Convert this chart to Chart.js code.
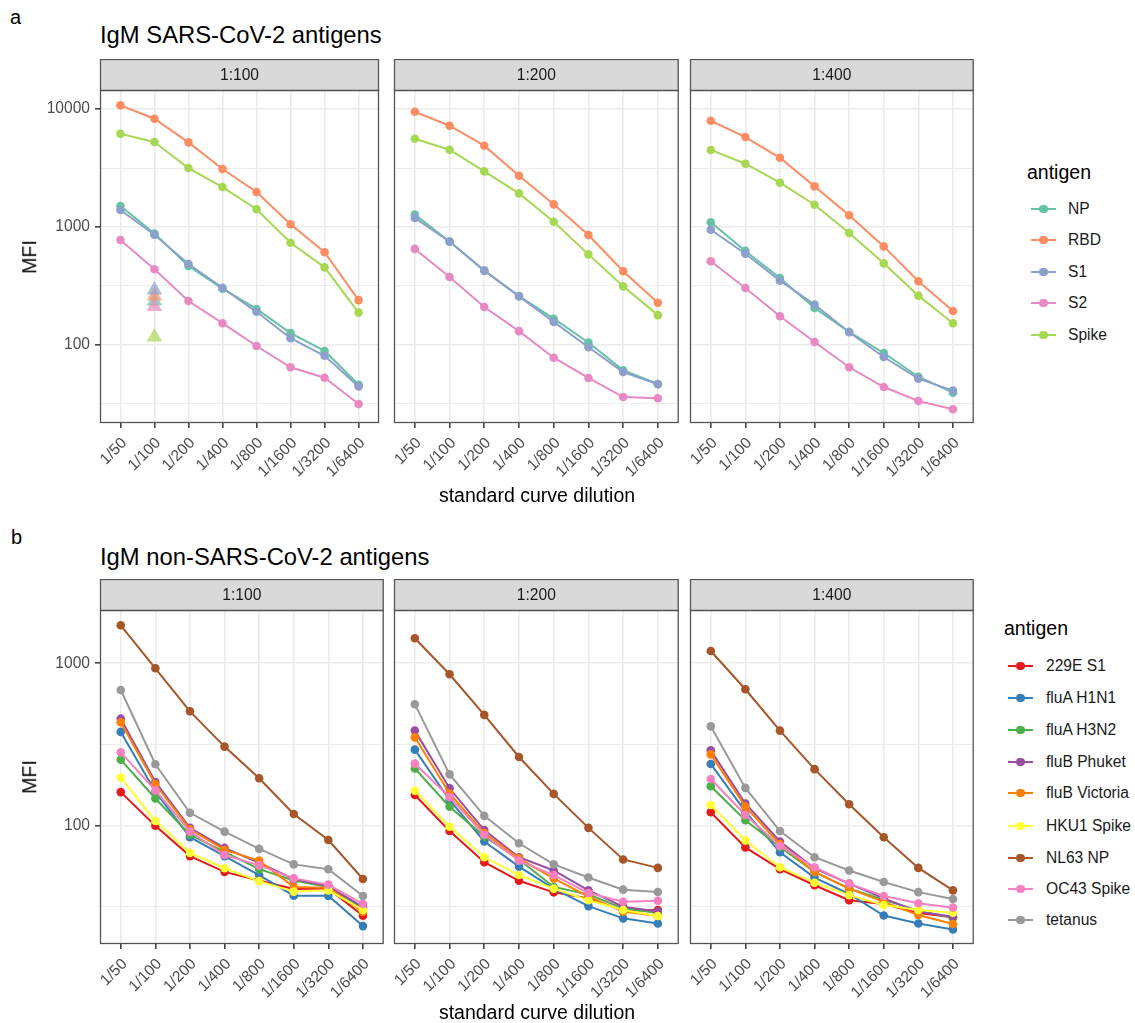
<!DOCTYPE html>
<html><head><meta charset="utf-8">
<script src="https://cdn.jsdelivr.net/npm/chart.js@4.4.1/dist/chart.umd.min.js"></script>
<style>
body{margin:0;background:#fff;width:1135px;height:1023px;overflow:hidden;position:relative;font-family:"Liberation Sans",Arial,Helvetica,sans-serif;}
canvas{position:absolute;}
.t{position:absolute;white-space:nowrap;line-height:1;color:#000;}
.key{position:absolute;height:2px;}
.dot{position:absolute;border-radius:50%;}
</style></head><body>
<script>
// ---------------- data ----------------
const dilutions = ['1/50','1/100','1/200','1/400','1/800','1/1600','1/3200','1/6400'];
const facetLabels = ['1:100','1:200','1:400'];

const sarsAntigens = ['NP','RBD','S1','S2','Spike'];
const sarsColors = ['#66C2A5','#FC8D62','#8DA0CB','#E78AC3','#A6D854'];
// rows follow sarsAntigens, columns follow dilutions
const sarsMFI_100 = [
  [1507, 880, 467, 300, 202, 126, 89, 46],
  [10750, 8280, 5220, 3100, 1980, 1055, 611, 240],
  [1393, 860, 485, 305, 191, 114, 81, 44.4],
  [776, 438, 236, 153, 98, 64.7, 52.8, 31.6],
  [6180, 5250, 3160, 2180, 1413, 736, 455, 188]
];
const sarsMFI_200 = [
  [1274, 752, 427, 260, 167, 105, 61, 46.7],
  [9490, 7220, 4890, 2720, 1556, 855, 422, 228],
  [1191, 752, 427, 258, 157, 95.6, 59, 46.5],
  [652, 377, 210, 131, 78, 52.5, 36.2, 35.3],
  [5600, 4520, 2960, 1928, 1109, 586, 314, 179]
];
const sarsMFI_400 = [
  [1097, 627, 370, 206, 129, 85.5, 53.8, 39.4],
  [7960, 5790, 3860, 2210, 1256, 685, 347, 194],
  [948, 594, 351, 220, 128, 79, 51.8, 41],
  [512, 304, 175, 106, 64.7, 44, 33.5, 28.5],
  [4500, 3440, 2375, 1545, 889, 492, 262, 153]
];
// triangles (facet 1:100, dilution 1/100), order follows sarsAntigens
const sarsTriangleDilution = '1/100';
const sarsTriangleMFI = [236, 260, 292, 212, 117];

const otherAntigens = ['229E S1','fluA H1N1','fluA H3N2','fluB Phuket','fluB Victoria','HKU1 Spike','NL63 NP','OC43 Spike','tetanus'];
const otherColors = ['#E41A1C','#377EB8','#4DAF4A','#984EA3','#FF7F00','#FFFF33','#A65628','#F781BF','#999999'];
const otherMFI_100 = [
  [161, 100, 65, 52, 46, 40.8, 41, 27.9],
  [378, 162, 85, 65, 49.7, 37.1, 37, 24.1],
  [255, 147, 88, 69, 54, 46, 42, 31],
  [456, 186, 97, 73, 59, 47, 42.5, 31.5],
  [433, 180, 95, 71, 61, 42, 41.5, 29.5],
  [198, 107, 68, 54.7, 45.6, 39.3, 40, 30.3],
  [1714, 931, 506, 307, 196, 118, 81.6, 47],
  [283, 165, 92, 66, 57, 47.4, 43.4, 33],
  [685, 239, 120, 92, 72, 57.8, 54, 36.9]
];
const otherMFI_200 = [
  [154.5, 92.7, 59.6, 45.8, 38.9, 35.7, 30, 30.3],
  [294, 144, 80, 56, 41, 32, 26.9, 25],
  [225, 131, 86, 62, 42, 37.7, 31, 29],
  [385, 170, 94, 64, 53, 40, 31.7, 29.6],
  [350, 158, 90, 63, 47.4, 36.6, 29.6, 27.8],
  [164, 98.5, 64, 49.7, 41, 34.8, 30.3, 27.8],
  [1425, 856, 481, 265, 157, 97, 62, 55],
  [241, 150, 88, 61, 49.7, 38.5, 34, 34.5],
  [560, 207, 115, 78, 57.8, 48, 40.4, 39.1]
];
const otherMFI_400 = [
  [121, 73.6, 54, 43, 34.8, 33, 29, 27.3],
  [240, 122, 68.6, 47.9, 38, 28, 25, 23],
  [175, 108, 74, 52, 41, 35, 30, 27],
  [291, 137, 80, 54.7, 44, 35.7, 29.6, 27.5],
  [275, 131, 77, 52, 41, 34, 28.2, 24.8],
  [134, 81, 55.5, 44.6, 37.4, 32.5, 30.3, 29.1],
  [1190, 692, 385, 223, 135.5, 85, 55, 40],
  [194, 116.5, 75, 55.5, 44, 36.9, 33.3, 31.3],
  [409, 171, 92.7, 64, 53, 45, 39, 35.4]
];
const yMajorA = [100, 1000, 10000];
const yMinorA = [31.62, 316.2, 3162];
const yMajorB = [100, 1000];
const yMinorB = [31.62, 316.2];
const yRangeA = [21.8, 14500];
const yRangeB = [18.7, 2128];

// ---------------- layout ----------------
const FONT = '"Liberation Sans", Arial, Helvetica, sans-serif';
Chart.defaults.font.family = FONT;
const cols = [[100,384],[394,679],[690,974]];
const rowsY = [{top:90,bottom:423},{top:610,bottom:944}];
const STRIP = 31, XAX = 90, TICKF = 15.6;

function hexA(hex, a){
  const n = parseInt(hex.slice(1),16);
  return `rgba(${(n>>16)&255},${(n>>8)&255},${n&255},${a})`;
}

const stripPlugin = {
  id:'strip',
  afterDraw(chart, args, opts){
    const {ctx, chartArea:a} = chart;
    ctx.save();
    ctx.fillStyle = '#D9D9D9';
    ctx.fillRect(a.left, a.top-STRIP, a.right-a.left, STRIP);
    ctx.strokeStyle = '#555555';
    ctx.lineWidth = 1.3;
    ctx.strokeRect(a.left+0.5, a.top-STRIP+0.5, a.right-a.left-1, STRIP);
    ctx.strokeRect(a.left+0.5, a.top+0.5, a.right-a.left-1, a.bottom-a.top-1);
    ctx.fillStyle = '#1A1A1A';
    ctx.font = `${TICKF}px ${FONT}`;
    ctx.textAlign = 'center';
    ctx.textBaseline = 'middle';
    ctx.fillText(opts.label, (a.left+a.right)/2, a.top-STRIP/2+1);
    ctx.restore();
  }
};

function makePanel(row, col, antigens, colors, mfi, majors, minors, range, triangles){
  const [L,R] = cols[col];
  const T = rowsY[row].top, B = rowsY[row].bottom;
  const padL = col===0 ? 60 : 30, padR = 4;
  const W = padL + (R-L) + padR, H = STRIP + (B-T) + XAX;
  const cv = document.createElement('canvas');
  cv.width = W; cv.height = H;
  cv.style.left = (L-padL)+'px'; cv.style.top = (T-STRIP)+'px';
  cv.style.width = W+'px'; cv.style.height = H+'px';
  document.body.appendChild(cv);

  const datasets = antigens.map((name,i)=>({
    label:name,
    data: mfi[i].map((v,j)=>({x:j, y:v})),
    borderColor: colors[i], backgroundColor: colors[i],
    pointBackgroundColor: colors[i], pointBorderWidth:0,
    pointRadius:4.3, pointHoverRadius:4.3, borderWidth:2, tension:0,
    order: -i
  }));
  if (triangles){
    const xi = dilutions.indexOf(sarsTriangleDilution);
    datasets.push({
      label:'triangles',
      data: triangles.map(v=>({x:xi, y:v})),
      showLine:false, pointStyle:'triangle', pointRadius:9, pointHoverRadius:9,
      pointBackgroundColor: colors.map(c=>hexA(c,0.7)), pointBorderWidth:0,
      borderColor:'transparent', order: 5
    });
  }
  const majorSet = new Set(majors);
  const allTicks = majors.concat(minors).sort((a,b)=>a-b);
  new Chart(cv, {
    type:'line',
    data:{datasets},
    options:{
      responsive:false, animation:false, devicePixelRatio:1,
      events:[],
      layout:{padding:{left: col===0?0:padL, top:STRIP, right:padR, bottom:0}},
      plugins:{legend:{display:false}, tooltip:{enabled:false}, strip:{label:facetLabels[col]}},
      scales:{
        x:{
          type:'linear', min:-0.6, max:dilutions.length-0.4,
          afterBuildTicks:(s)=>{ s.ticks = dilutions.map((d,i)=>({value:i})); },
          afterFit:(s)=>{ s.height = XAX; },
          ticks:{autoSkip:false, minRotation:45, maxRotation:45, padding:6, labelOffset:4,
                 color:'#4D4D4D', font:{size:TICKF},
                 callback:(v)=>dilutions[v]},
          grid:{color:'#EBEBEB', lineWidth:1.6, tickColor:'#444444', tickLength:5, drawTicks:true},
          border:{display:false}
        },
        y:{
          type:'logarithmic', min:range[0], max:range[1],
          afterBuildTicks:(s)=>{ s.ticks = allTicks.map(v=>({value:v})); },
          afterFit:(s)=>{ s.width = col===0 ? padL : 0; },
          ticks:{display: col===0, autoSkip:false, padding:5, color:'#4D4D4D', font:{size:TICKF},
                 callback:(v)=> majorSet.has(v) ? String(v) : ''},
          grid:{
            color:'#EBEBEB',
            lineWidth:(c)=> (c.tick && majorSet.has(c.tick.value)) ? 1.6 : 0.9,
            tickColor:(c)=> (col===0 && c.tick && majorSet.has(c.tick.value)) ? '#444444' : 'rgba(0,0,0,0)',
            tickLength:5, drawTicks: col===0
          },
          border:{display:false}
        }
      }
    },
    plugins:[stripPlugin]
  });
}

// ---------------- text helpers ----------------
function text(str, left, baseline, size, extra){
  const d = document.createElement('div');
  d.className = 't';
  d.textContent = str;
  d.style.fontSize = size+'px';
  d.style.left = left+'px';
  d.style.top = (baseline - 0.8465*size)+'px';
  if (extra) Object.assign(d.style, extra);
  document.body.appendChild(d);
  return d;
}
function legend(title, names, colors, titleX, titleBase, keyX, textX, centers){
  text(title, titleX, titleBase, 19.5);
  names.forEach((n,i)=>{
    const y = centers[i];
    const k = document.createElement('div');
    k.className = 'key';
    k.style.left = keyX+'px'; k.style.width = '25px'; k.style.top = (y-1)+'px';
    k.style.background = colors[i];
    document.body.appendChild(k);
    const d = document.createElement('div');
    d.className = 'dot';
    d.style.left = (keyX+12.5-4.3)+'px'; d.style.top = (y-4.3)+'px';
    d.style.width = '8.6px'; d.style.height = '8.6px'; d.style.background = colors[i];
    document.body.appendChild(d);
    const t = document.createElement('div');
    t.className = 't'; t.textContent = n; t.style.fontSize = '15.6px';
    t.style.left = textX+'px'; t.style.top = (y - 7.8)+'px'; t.style.color = '#1A1A1A';
    document.body.appendChild(t);
  });
}

// ---------------- build ----------------
const sarsSets = [sarsMFI_100, sarsMFI_200, sarsMFI_400];
const otherSets = [otherMFI_100, otherMFI_200, otherMFI_400];
for (let c=0;c<3;c++){
  makePanel(0, c, sarsAntigens, sarsColors, sarsSets[c], yMajorA, yMinorA, yRangeA, c===0 ? sarsTriangleMFI : null);
  makePanel(1, c, otherAntigens, otherColors, otherSets[c], yMajorB, yMinorB, yRangeB, null);
}

text('a', 10, 24, 20);
text('b', 11, 544, 20);
text('IgM SARS-CoV-2 antigens', 100, 43, 23.8);
text('IgM non-SARS-CoV-2 antigens', 100, 565, 23.8);
[256.5, 777].forEach(cy=>{
  const d = document.createElement('div');
  d.className='t'; d.textContent='MFI'; d.style.fontSize='19.5px';
  d.style.left='30px'; d.style.top=cy+'px';
  d.style.transform='translate(-50%,-50%) rotate(-90deg)';
  document.body.appendChild(d);
});
[503, 1020].forEach(b=>{
  text('standard curve dilution', 537, b, 19.5, {transform:'translateX(-50%)'});
});
legend('antigen', sarsAntigens, sarsColors, 1027, 180, 1031, 1068, [209,240,272,303,335]);
legend('antigen', otherAntigens, otherColors, 1004, 636, 1008, 1046, [666,698,730,762,793,826,858,889,920]);
</script>
</body></html>
